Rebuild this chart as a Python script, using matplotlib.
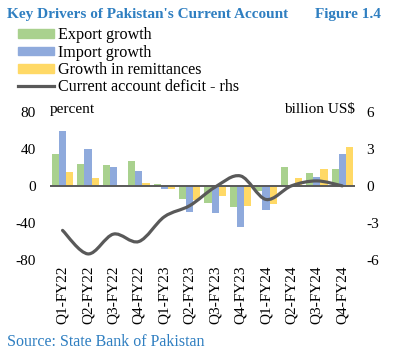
import numpy as np
import matplotlib
matplotlib.use("Agg")
import matplotlib.pyplot as plt
from matplotlib.patches import Patch, PathPatch
from matplotlib.lines import Line2D
from matplotlib.path import Path

quarters = ["Q1-FY22", "Q2-FY22", "Q3-FY22", "Q4-FY22",
            "Q1-FY23", "Q2-FY23", "Q3-FY23", "Q4-FY23",
            "Q1-FY24", "Q2-FY24", "Q3-FY24", "Q4-FY24"]
export_growth = [34.5, 24.0, 22.0, 26.5, 2.2, -14.7, -19.0, -22.7, -5.4, 20.5, 13.4, 18.0]
import_growth = [59.5, 39.5, 20.5, 16.0, -3.6, -28.0, -28.8, -44.3, -25.5, 0.4, 9.7, 34.0]
remittances = [14.8, 8.0, 0.5, 3.0, -3.9, -15.4, -11.1, -22.0, -19.8, 9.0, 17.7, 41.5]
ca_deficit = [-3.6, -5.5, -3.9, -4.5, -2.5, -1.6, -0.1, 0.8, -1.1, 0.0, 0.4, 0.0]

green = "#A9D18E"
blue = "#8FAADC"
yellow = "#FFD966"
grey = "#595959"
title_blue = "#2F7FC1"
plt.rcParams["font.family"] = ["Liberation Serif", "DejaVu Serif"]
plt.rcParams["axes.unicode_minus"] = False

fig = plt.figure(figsize=(4.02, 3.51), dpi=100)
ax = fig.add_axes([0.124, 0.259, 0.759, 0.423])
ax2 = ax.twinx()

x = np.arange(len(quarters))
w = 0.28
ax.bar(x - w, export_growth, w, color=green, zorder=2)
ax.bar(x, import_growth, w, color=blue, zorder=2)
ax.bar(x + w, remittances, w, color=yellow, zorder=2)
ax.axhline(0, color=grey, lw=1.4, zorder=3)

ax.set_xlim(-0.5, len(quarters) - 0.5)
ax.set_ylim(-80, 80)
ax.set_yticks([-80, -40, 0, 40, 80])
ax.set_xticks(x)
ax.set_xticklabels(quarters, rotation=90, fontsize=10)
ax2.set_ylim(-6, 6)
ax2.set_yticks([-6, -3, 0, 3, 6])

for a in (ax, ax2):
    for s in a.spines.values():
        s.set_visible(False)
    a.tick_params(length=0, labelsize=11)
ax.tick_params(axis="y", pad=10)
ax2.tick_params(axis="y", pad=8)
ax.tick_params(axis="x", pad=4)

# smoothed line (excel style bezier through the points)
pts = np.column_stack([x, ca_deficit]).astype(float)
ext = np.vstack([pts[0], pts, pts[-1]])
verts = [pts[0]]
codes = [Path.MOVETO]
for i in range(len(pts) - 1):
    p0, p1, p2, p3 = ext[i], ext[i + 1], ext[i + 2], ext[i + 3]
    c1 = p1 + (p2 - p0) / 6
    c2 = p2 - (p3 - p1) / 6
    verts += [c1, c2, p2]
    codes += [Path.CURVE4] * 3
ax2.add_patch(PathPatch(Path(verts, codes), facecolor="none", edgecolor=grey,
                        lw=2.3, zorder=4, capstyle="round"))

fig.text(0.124, 0.688, "percent", fontsize=11, ha="left", va="center")
fig.text(0.883, 0.688, "billion US$", fontsize=11, ha="right", va="center")

fig.text(0.018, 0.958, "Key Drivers of Pakistan's Current Account", fontsize=11,
         fontweight="bold", color=title_blue, va="center")
fig.text(0.948, 0.958, "Figure 1.4", fontsize=11, fontweight="bold",
         color=title_blue, va="center", ha="right")

handles = [Patch(color=green), Patch(color=blue), Patch(color=yellow),
           Line2D([], [], color=grey, lw=2.3)]
labels = ["Export growth", "Import growth", "Growth in remittances",
          "Current account deficit - rhs"]
fig.legend(handles, labels, loc="upper left", bbox_to_anchor=(0.045, 0.922),
           frameon=False, fontsize=11.6, handlelength=2.2, handleheight=0.45,
           handletextpad=0.3, labelspacing=0.08, borderpad=0, borderaxespad=0)

fig.text(0.017, 0.025, "Source: State Bank of Pakistan", fontsize=11.5,
         color=title_blue, va="center")

fig.savefig("out.png", dpi=100)
